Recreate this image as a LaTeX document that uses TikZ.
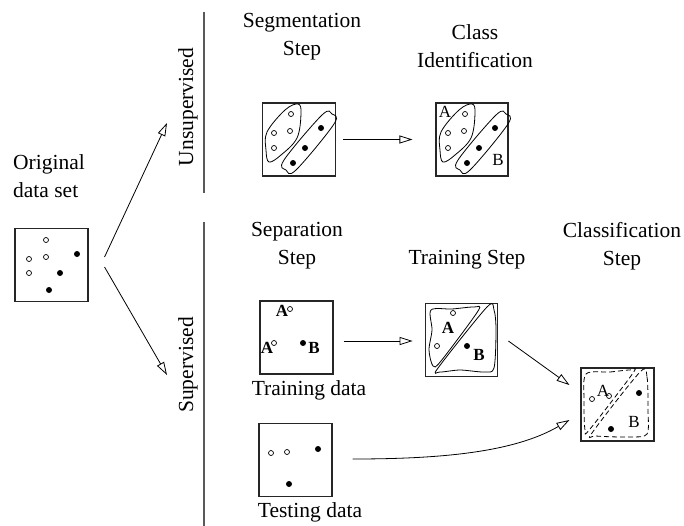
\documentclass[tikz,border=0pt]{standalone}
\usepackage{fontspec}
\setmainfont{Liberation Serif}
\usepackage{tikz}
\usetikzlibrary{arrows.meta, calc}

\begin{document}
\begin{tikzpicture}[
    x=1pt, y=-1pt,
    lbl/.style={font=\fontsize{21.5}{28}\selectfont, align=center, inner sep=0pt},
    databox/.style={draw=black!85, line width=1.1pt, minimum width=73pt, minimum height=73pt, inner sep=0pt},
    letter/.style={font=\fontsize{17}{17}\selectfont, inner sep=0pt},
    boldletter/.style={font=\fontsize{17}{17}\selectfont\bfseries, inner sep=0pt},
    arrow/.style={-{Triangle[open, length=13pt, width=8pt]}, line width=0.8pt},
    hollow/.style={line width=0.7pt},
    blob/.style={line width=0.8pt},
    dashblob/.style={line width=0.8pt, dash pattern=on 5pt off 3pt},
    divider/.style={draw=black!65, line width=1.3pt}
]
\useasboundingbox (0,0) rectangle (684,525);

\node (origtxt) [lbl, align=left] at (49,176) {Original\\data set};
\node (segtxt) [lbl] at (302,37) {Segmentation\\Step};
\node (idftxt) [lbl] at (475,46) {Class\\Identification};
\node (unsup) [lbl, rotate=90] at (188,107) {Unsupervised};
\node (sup) [lbl, rotate=90] at (188,365) {Supervised};
\node (septxt) [lbl] at (297,246) {Separation\\Step};
\node (traintxt) [lbl] at (467,260) {Training Step};
\node (clftxt) [lbl] at (622,246) {Classification\\Step};

\node (orig) [databox] at (51.5,265) {};
\node (seg) [databox] at (299,139.5) {};
\node (idf) [databox, minimum width=72pt] at (472,139.5) {};
\node (sep) [databox] at (296.5,337.5) {};
\node (train) [databox, line width=1.8pt, minimum width=72pt] at (461.5,340) {};
\node (test) [databox] at (295.5,460) {};
\node (clf) [databox] at (617.5,404.5) {};

\node (traindata) [lbl] at (309,390) {Training data};
\node (testdata) [lbl] at (310,512) {Testing data};

\draw[divider] (204,12) -- (204,193);
\draw[divider] (204,222) -- (204,530);

\foreach \p in {(46,240),(29,259),(46,257),(29,273)} \draw[hollow] \p circle (2.5pt);
\foreach \p in {(77,254),(60,273),(49,290)} \fill \p circle (3pt);

\foreach \dx in {0,174} {
  \begin{scope}[xshift=\dx]
    \foreach \p in {(291,114),(274,133),(290,131),(274,148)} \draw[hollow] \p circle (2.5pt);
    \foreach \p in {(321,128),(305,148),(293,163)} \fill \p circle (3pt);
    \draw[blob] plot[smooth cycle, tension=0.6] coordinates {(298,104) (301,113) (297,138) (281,155) (269,162) (266,150) (267,132) (285,110)};
    \draw[blob] plot[smooth cycle, tension=0.6] coordinates {(332,114) (334,124) (296,170) (286,170) (284,160) (322,115)};
  \end{scope}
}
\node (idfA) [letter] at (445,112) {A};
\node (idfB) [letter] at (498,160) {B};

\node (sepA) [boldletter] at (282,311) {A};
\node (sepA2) [boldletter] at (267,348) {A};
\node (sepB) [boldletter] at (314,348) {B};
\draw[hollow] (290,309) circle (2.5pt);
\draw[hollow] (274,343) circle (2.5pt);
\fill (303,343) circle (3pt);

\draw[blob] plot[smooth cycle, tension=0.5] coordinates {(431,310) (452,309) (474,307) (478,311) (441,361) (433,366) (429,350) (432,330)};
\draw[blob] plot[smooth cycle, tension=0.5] coordinates {(487,307) (494,310) (496,330) (494,368) (484,372) (460,370) (440,372) (438,368)};
\draw[hollow] (453,313) circle (2.5pt);
\draw[hollow] (437,346) circle (2.5pt);
\fill (467,346) circle (3pt);
\node (trainA) [boldletter] at (448,328) {A};
\node (trainB) [boldletter] at (479,355) {B};

\foreach \p in {(271,453),(287,452)} \draw[hollow] \p circle (2.5pt);
\foreach \p in {(318,449),(289,484)} \fill \p circle (3pt);

\draw[dashblob] plot[smooth cycle, tension=0.5] coordinates {(586,374) (610,372) (630,370) (633,373) (590,429) (585,430) (584,400)};
\draw[dashblob] plot[smooth cycle, tension=0.5] coordinates {(640,372) (647,377) (648,410) (647,434) (630,437) (596,436) (592,433)};
\node (clfA) [letter] at (603,391) {A};
\node (clfB) [letter] at (634,422) {B};
\draw[hollow] (592,399) circle (2.5pt);
\draw[hollow] (609,396) circle (2.5pt);
\fill (639,393) circle (3pt);
\fill (611,429) circle (3pt);

\coordinate (toUnsup) at (167,123);
\coordinate (toSup) at (167,375);
\draw[arrow] ($(orig.east)+(16,-8)$) -- (toUnsup);
\draw[arrow] ($(orig.east)+(16,2)$) -- (toSup);
\draw[arrow] ($(seg.east)+(7,0)$) -- ($(idf.west)+(-23,0)$);
\draw[arrow] ($(sep.east)+(10,3.5)$) -- ($(train.west)+(-12,1)$);
\draw[arrow] ($(train.east)+(10,1)$) -- ($(clf.west)+(-11,-19.5)$);
\draw[arrow] ($(test.east)+(20,-1)$) .. controls +(90,0) and +(-55,32) .. ($(clf.west)+(-11,15.5)$);
\end{tikzpicture}
\end{document}
